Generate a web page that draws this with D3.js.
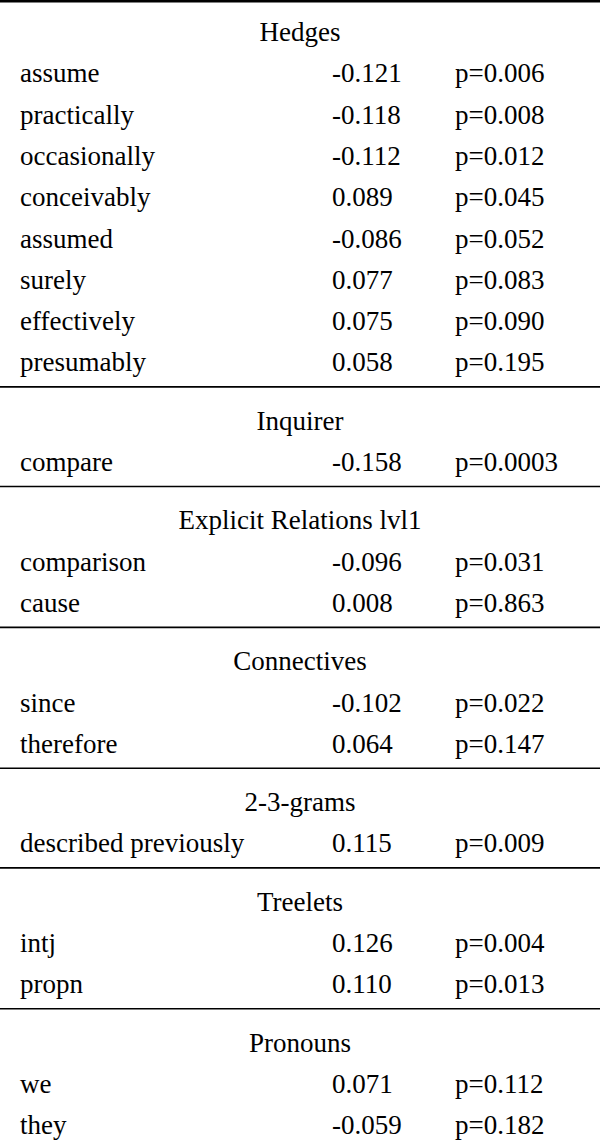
<!DOCTYPE html>
<html><head><meta charset="utf-8">
<script src="https://cdn.jsdelivr.net/npm/d3@7"></script>
<style>body{margin:0;background:#fff}
#chart text{font-family:"Liberation Serif","Times New Roman",Times,Tinos,"DejaVu Serif",serif;font-size:27px}</style>
</head><body>
<svg id="chart" width="600" height="1142"></svg>
<script>
// table data
var sections = ["Hedges", "Inquirer", "Explicit Relations lvl1", "Connectives", "2-3-grams", "Treelets", "Pronouns"];
var words = [
  ["assume", "practically", "occasionally", "conceivably", "assumed", "surely", "effectively", "presumably"],
  ["compare"],
  ["comparison", "cause"],
  ["since", "therefore"],
  ["described previously"],
  ["intj", "propn"],
  ["we", "they"]
];
var coefs = [
  ["-0.121", "-0.118", "-0.112", "0.089", "-0.086", "0.077", "0.075", "0.058"],
  ["-0.158"],
  ["-0.096", "0.008"],
  ["-0.102", "0.064"],
  ["0.115"],
  ["0.126", "0.110"],
  ["0.071", "-0.059"]
];
var pvals = [
  ["p=0.006", "p=0.008", "p=0.012", "p=0.045", "p=0.052", "p=0.083", "p=0.090", "p=0.195"],
  ["p=0.0003"],
  ["p=0.031", "p=0.863"],
  ["p=0.022", "p=0.147"],
  ["p=0.009"],
  ["p=0.004", "p=0.013"],
  ["p=0.112", "p=0.182"]
];

var svg = d3.select("#chart");
var rowH = 41.3, gap = 17;

// build row list with slot units
var rows = [], seps = [], pos = 32;
for (var s = 0; s < sections.length; s++) {
  if (s > 0) {
    seps.push(pos + 24.5);
    pos += rowH + gap;
  }
  rows.push({type: "head", text: sections[s], y: pos});
  for (var i = 0; i < words[s].length; i++) {
    pos += rowH;
    rows.push({type: "row", w: words[s][i], c: coefs[s][i], p: pvals[s][i], y: pos});
  }
}

var y = d3.scaleLinear().domain([0, 1142]).range([0, 1142]);
var x = d3.scaleOrdinal().domain(["w", "c", "p", "head"]).range([20, 332, 455, 300]);

svg.append("line").attr("x1", 0).attr("x2", 600).attr("y1", 1.3).attr("y2", 1.3)
  .attr("stroke", "#000").attr("stroke-width", 2.6);

svg.selectAll("line.sep").data(seps).enter().append("line").attr("class", "sep")
  .attr("x1", 0).attr("x2", 600)
  .attr("y1", function(d){ return y(d); }).attr("y2", function(d){ return y(d); })
  .attr("stroke", "#000").attr("stroke-width", 1.6);

var g = svg.append("g").attr("fill", "#000");

g.selectAll("text.head").data(rows.filter(function(d){ return d.type == "head"; }))
  .enter().append("text").attr("class", "head")
  .attr("x", x("head")).attr("y", function(d){ return y(d.y); })
  .attr("text-anchor", "middle").attr("dominant-baseline", "central")
  .text(function(d){ return d.text; });

["w", "c", "p"].forEach(function(k){
  g.selectAll("text.col" + k).data(rows.filter(function(d){ return d.type == "row"; }))
    .enter().append("text").attr("class", "col" + k)
    .attr("x", x(k)).attr("y", function(d){ return y(d.y); })
    .attr("dominant-baseline", "central")
    .text(function(d){ return d[k]; });
});
</script>
</body></html>
